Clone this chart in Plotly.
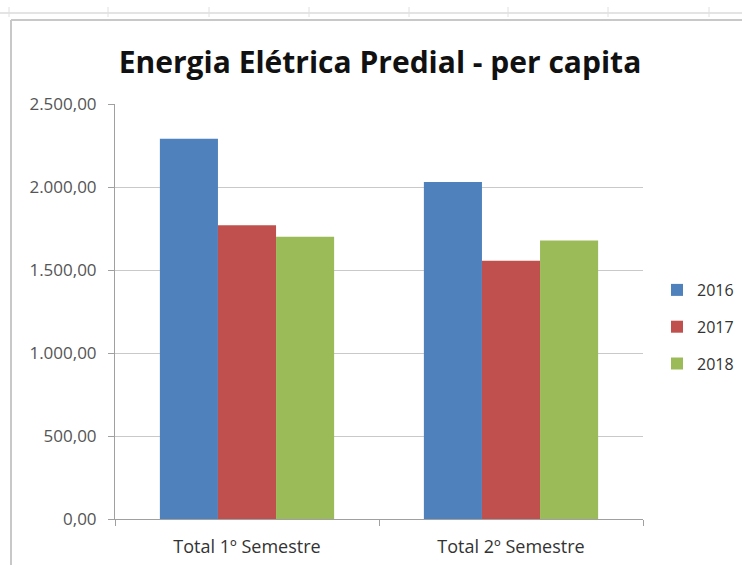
import plotly.graph_objects as go

categories = ["Total 1º Semestre", "Total 2º Semestre"]
years = ["2016", "2017", "2018"]
values_2016 = [2290, 2030]
values_2017 = [1770, 1555]
values_2018 = [1700, 1678]
colors = ["#4F81BD", "#C0504D", "#9BBB59"]
y_ticks = [0, 500, 1000, 1500, 2000, 2500]
y_tick_labels = ["0,00", "500,00", "1.000,00", "1.500,00", "2.000,00", "2.500,00"]

W, H = 742, 565
L, R, T, B = 115, 0, 104, 46
pw, ph = W - L - R, H - T - B
PLOT_RIGHT = 643

def px(x):
    return (x - L) / pw

def py(y):
    return (H - B - y) / ph

fig = go.Figure()
for name, vals, c in zip(years, [values_2016, values_2017, values_2018], colors):
    fig.add_trace(go.Bar(name=name, x=categories, y=vals, legendgroup=name,
                         marker=dict(color=c, line=dict(width=0))))

shapes = []
# spreadsheet top strip
shapes.append(dict(type="line", xref="paper", yref="paper", x0=px(0), x1=px(W), y0=py(13), y1=py(13),
                   line=dict(color="#e4e4e4", width=2)))
for xv in [9, 108, 209, 309, 409, 508, 608, 709]:
    shapes.append(dict(type="line", xref="paper", yref="paper", x0=px(xv), x1=px(xv), y0=py(7), y1=py(17),
                       line=dict(color="#e0e0e0", width=1)))
# chart frame
shapes.append(dict(type="line", xref="paper", yref="paper", x0=px(11), x1=px(W + 5), y0=py(20), y1=py(20),
                   line=dict(color="#c8c8c8", width=2)))
shapes.append(dict(type="line", xref="paper", yref="paper", x0=px(11), x1=px(11), y0=py(20), y1=py(H + 5),
                   line=dict(color="#c8c8c8", width=2)))

fig.update_layout(
    width=W, height=H,
    margin=dict(l=L, r=R, t=T, b=B, autoexpand=False),
    paper_bgcolor="white", plot_bgcolor="white",
    barmode="group", bargap=0.34, bargroupgap=0,
    title=dict(text="<b>Energia Elétrica Predial - per capita</b>", x=380 / W, xanchor="center",
               y=1 - 62 / H, yanchor="middle",
               font=dict(family="Open Sans", size=30, color="#111111")),
    legend=dict(x=px(657), y=py(273), xanchor="left", yanchor="top",
                font=dict(family="Open Sans", size=16, color="#333333"),
                itemwidth=30, tracegroupgap=13, bgcolor="rgba(0,0,0,0)"),
    font=dict(family="Open Sans", size=12, color="#444444"),
    shapes=shapes,
    showlegend=True,
)
fig.update_yaxes(range=[0, 2500], tickvals=y_ticks, ticktext=y_tick_labels,
                 showgrid=True, gridcolor="#c9c9c9", gridwidth=1,
                 showline=True, linecolor="#a0a0a0", linewidth=1,
                 ticks="outside", ticklen=6, tickcolor="#a0a0a0", ticklabelstandoff=8,
                 tickfont=dict(family="Open Sans", size=17, color="#555555"), zeroline=False)
fig.update_xaxes(domain=[0, (PLOT_RIGHT - L) / pw],
                 showline=True, linecolor="#a0a0a0", linewidth=1,
                 ticks="outside", tickson="boundaries", ticklen=6, tickcolor="#a0a0a0",
                 ticklabelstandoff=11,
                 tickfont=dict(family="Open Sans", size=18, color="#333333"))

fig.write_html("out.html")
